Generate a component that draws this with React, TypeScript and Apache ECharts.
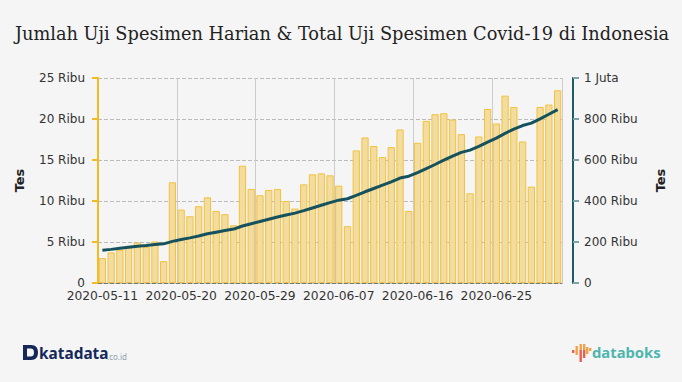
import React, { useEffect, useRef } from "react";
import * as echarts from "echarts";

const dates = [
  "2020-05-11","2020-05-12","2020-05-13","2020-05-14","2020-05-15","2020-05-16","2020-05-17","2020-05-18","2020-05-19",
  "2020-05-20","2020-05-21","2020-05-22","2020-05-23","2020-05-24","2020-05-25","2020-05-26","2020-05-27","2020-05-28",
  "2020-05-29","2020-05-30","2020-05-31","2020-06-01","2020-06-02","2020-06-03","2020-06-04","2020-06-05","2020-06-06",
  "2020-06-07","2020-06-08","2020-06-09","2020-06-10","2020-06-11","2020-06-12","2020-06-13","2020-06-14","2020-06-15",
  "2020-06-16","2020-06-17","2020-06-18","2020-06-19","2020-06-20","2020-06-21","2020-06-22","2020-06-23","2020-06-24",
  "2020-06-25","2020-06-26","2020-06-27","2020-06-28","2020-06-29","2020-06-30","2020-07-01","2020-07-02",
];
const dailyTests = [
  3040,3730,4050,4540,4940,4380,5060,2670,12280,8950,8140,9360,10450,8790,8390,7050,14300,11470,10700,11350,11470,10000,9080,12030,13250,13370,13130,
  11870,6930,16170,17750,16700,15360,16570,18720,8790,17100,19770,20580,20700,19930,18150,10940,17870,21230,19450,22850,21470,17260,11750,21470,21760,23500,
];
const totalTests = [
  160000,164000,169000,174000,179000,183000,188000,191000,203000,212000,220000,229000,240000,248000,256000,263000,278000,289000,300000,311000,322000,332000,341000,353000,366000,379000,392000,
  404000,411000,427000,445000,461000,477000,493000,512000,521000,538000,558000,578000,599000,619000,637000,648000,666000,687000,707000,730000,751000,768000,780000,801000,823000,846000,
];
const titleText = "Jumlah Uji Spesimen Harian & Total Uji Spesimen Covid-19 di Indonesia";
const axisName = "Tes";
const font = "'DejaVu Sans', Verdana, sans-serif";

const leftFmt = (v: number) => (v === 0 ? "0" : `${v / 1000} Ribu`);
const rightFmt = (v: number) => (v === 0 ? "0" : v >= 1000000 ? `${v / 1000000} Juta` : `${v / 1000} Ribu`);

const databoksBars = [
  { x: 572, y: 350, h: 3, c: "#e8604c" },
  { x: 575.5, y: 346, h: 9, c: "#f0a24a" },
  { x: 579.5, y: 344, h: 6, c: "#f0a24a" },
  { x: 579.5, y: 350, h: 12, c: "#e8604c" },
  { x: 583, y: 344, h: 6, c: "#f0a24a" },
  { x: 583, y: 350, h: 8, c: "#e8604c" },
  { x: 586, y: 347, h: 7, c: "#f0a24a" },
  { x: 589, y: 348, h: 3, c: "#f0a24a" },
];

const katadataD = "M0 0L8 0C13 0 15 3 15 7.5C15 12 13 15 8 15L0 15ZM4 3.5L4 11.5L7.5 11.5C10 11.5 11 10 11 7.5C11 5 10 3.5 7.5 3.5Z";
echarts.graphic.registerShape("katadataD", echarts.graphic.extendPath(katadataD, {}) as any);

export default function App() {
  const ref = useRef<HTMLDivElement>(null);
  useEffect(() => {
    document.body.style.margin = "0";
    const chart = echarts.init(ref.current!, undefined, { renderer: "svg" });
    chart.setOption({
      animation: false,
      backgroundColor: "#f5f5f5",
      title: {
        text: titleText,
        left: 337,
        textAlign: "center",
        top: 20,
        textStyle: { fontFamily: "'DejaVu Serif', serif", fontSize: 17.75, fontWeight: "normal", color: "#222" },
      },
      grid: { left: 98, top: 78, width: 464, height: 205 },
      xAxis: {
        type: "category",
        data: dates,
        boundaryGap: true,
        axisLine: { show: true, lineStyle: { color: "#777", type: "dashed", width: 1 } },
        axisTick: { show: false },
        axisLabel: { interval: 8, color: "#333", fontFamily: font, fontSize: 12.3, margin: 7, showMinLabel: true },
        splitLine: { show: true, interval: 8, lineStyle: { color: "#ccc", width: 1 } },
      },
      yAxis: [
        {
          type: "value",
          min: 0,
          max: 25000,
          interval: 5000,
          name: axisName,
          nameLocation: "middle",
          nameGap: 72,
          nameTextStyle: { fontFamily: font, fontSize: 13, fontWeight: "bold", color: "#222" },
          axisLine: { show: true, lineStyle: { color: "#f3bb22", width: 2 } },
          axisTick: { show: true, length: 6, lineStyle: { color: "#f3bb22", width: 2 } },
          axisLabel: { formatter: leftFmt, color: "#333", fontFamily: font, fontSize: 12, margin: 13 },
          splitLine: { show: true, lineStyle: { color: "#bbb", type: "dashed", width: 1 } },
        },
        {
          type: "value",
          min: 0,
          max: 1000000,
          interval: 200000,
          position: "right",
          offset: 11,
          name: axisName,
          nameLocation: "middle",
          nameGap: 81,
          nameTextStyle: { fontFamily: font, fontSize: 13, fontWeight: "bold", color: "#222" },
          axisLine: { show: true, lineStyle: { color: "#1d5b66", width: 2 } },
          axisTick: { show: true, length: 6, lineStyle: { color: "#7fa3aa", width: 2 } },
          axisLabel: { formatter: rightFmt, color: "#333", fontFamily: font, fontSize: 12, margin: 11, align: "left" },
          splitLine: { show: false },
        },
      ],
      series: [
        {
          type: "bar",
          data: dailyTests,
          yAxisIndex: 0,
          barCategoryGap: "17%",
          itemStyle: { color: "#f3dc9f", borderColor: "#f3c13c", borderWidth: 1 },
        },
        {
          type: "line",
          data: totalTests,
          yAxisIndex: 1,
          symbol: "none",
          z: 5,
          lineStyle: { color: "#15525d", width: 3 },
        },
      ],
      graphic: [
        { type: "katadataD", x: 23, y: 345, style: { fill: "#14285a" } },
        { type: "text", x: 39, y: 346, style: { text: "katadata", fill: "#14285a", font: "bold 15.4px 'Noto Sans', sans-serif" } },
        { type: "text", x: 107, y: 352, style: { text: ".co.id", fill: "#8fa0ad", font: "8px 'Noto Sans', sans-serif" } },
        ...databoksBars.map((b) => ({
          type: "rect",
          shape: { x: b.x, y: b.y, width: 2.4, height: b.h },
          style: { fill: b.c },
        })),
        { type: "text", x: 592, y: 344, style: { text: "databoks", fill: "#4fb5ae", font: "bold 14.8px 'Noto Sans', sans-serif" } },
      ],
    });
    return () => chart.dispose();
  }, []);
  return <div ref={ref} style={{ width: 682, height: 382 }} />;
}
